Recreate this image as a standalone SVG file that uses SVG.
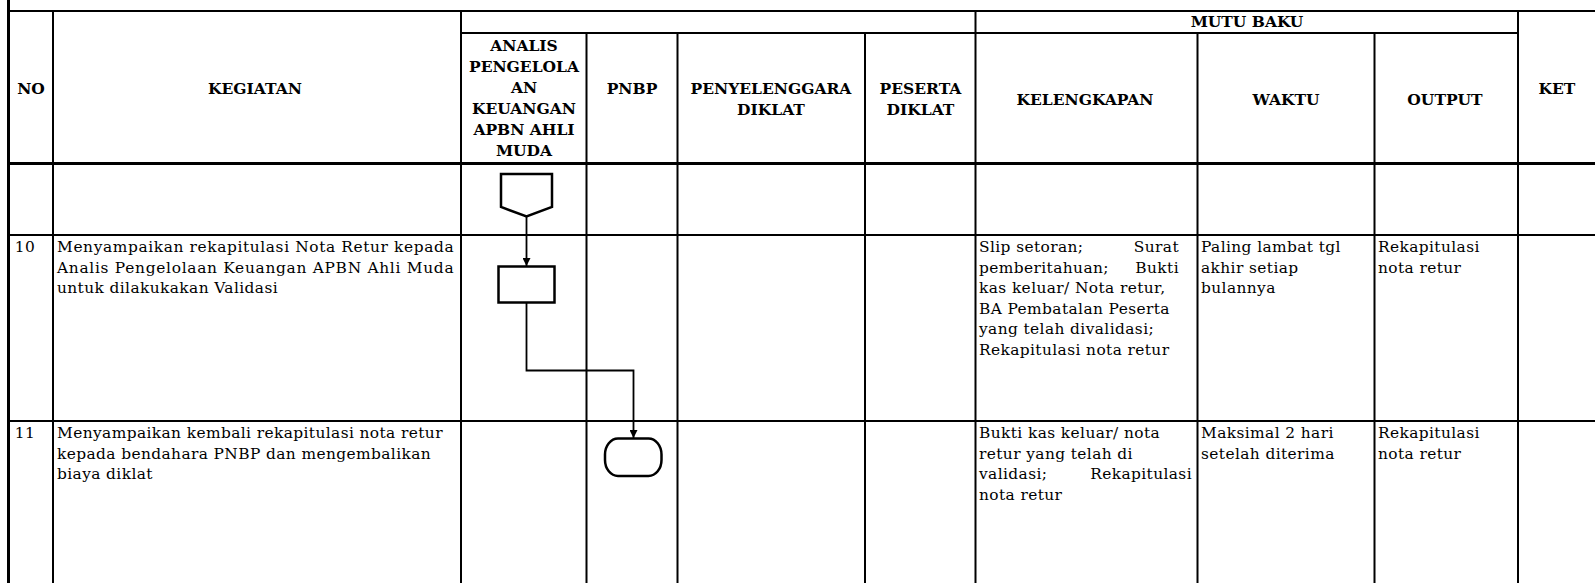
<svg xmlns="http://www.w3.org/2000/svg" width="1595" height="583" viewBox="0 0 1595 583">
<defs>
<style>
.g{stroke:#000;stroke-width:2;fill:none}
.gt{stroke:#000;stroke-width:3;fill:none}
.h{font-family:"DejaVu Serif","Liberation Serif",serif;font-weight:bold;font-size:15.5px;fill:#000;text-anchor:middle}
.b{font-family:"DejaVu Serif","Liberation Serif",serif;font-size:15.4px;letter-spacing:0.4px;fill:#000}
.s{stroke:#000;stroke-width:2.5;fill:#fff}
.c{stroke:#000;stroke-width:1.8;fill:none}
</style>
<marker id="ah" viewBox="0 0 10 10" refX="10" refY="5" markerWidth="8" markerHeight="8" markerUnits="userSpaceOnUse" orient="auto">
<path d="M0,0 L10,5 L0,10 z" fill="#000"/>
</marker>
</defs>
<rect x="0" y="0" width="1595" height="583" fill="#fff"/>

<g id="table">
<line class="gt" x1="8.5" y1="0" x2="8.5" y2="583"/>
<line class="g" x1="7" y1="11" x2="1595" y2="11"/>
<line class="g" x1="461" y1="33" x2="1518" y2="33"/>
<line class="gt" x1="7" y1="163.5" x2="1595" y2="163.5"/>
<line class="g" x1="7" y1="235" x2="1595" y2="235"/>
<line class="g" x1="7" y1="421" x2="1595" y2="421"/>
<line class="g" x1="53" y1="11" x2="53" y2="583"/>
<line class="g" x1="461" y1="11" x2="461" y2="583"/>
<line class="g" x1="586.5" y1="33" x2="586.5" y2="583"/>
<line class="g" x1="677.5" y1="33" x2="677.5" y2="583"/>
<line class="g" x1="865" y1="33" x2="865" y2="583"/>
<line class="g" x1="975.5" y1="11" x2="975.5" y2="583"/>
<line class="g" x1="1197.5" y1="33" x2="1197.5" y2="583"/>
<line class="g" x1="1374.5" y1="33" x2="1374.5" y2="583"/>
<line class="g" x1="1518" y1="11" x2="1518" y2="583"/>
</g>

<g id="header">
<text class="h" x="31" y="94">NO</text>
<text class="h" x="255" y="94">KEGIATAN</text>
<text class="h" x="524" y="50.5">ANALIS</text>
<text class="h" x="524" y="71.5">PENGELOLA</text>
<text class="h" x="524" y="93">AN</text>
<text class="h" x="524" y="113.5">KEUANGAN</text>
<text class="h" x="524" y="134.5">APBN AHLI</text>
<text class="h" x="524" y="156">MUDA</text>
<text class="h" x="632" y="94">PNBP</text>
<text class="h" x="771" y="94">PENYELENGGARA</text>
<text class="h" x="771" y="114.5">DIKLAT</text>
<text class="h" x="920.5" y="94">PESERTA</text>
<text class="h" x="920.5" y="114.5">DIKLAT</text>
<text class="h" x="1247" y="27">MUTU BAKU</text>
<text class="h" x="1085" y="104.5">KELENGKAPAN</text>
<text class="h" x="1286" y="104.5">WAKTU</text>
<text class="h" x="1445" y="104.5">OUTPUT</text>
<text class="h" x="1557" y="94">KET</text>
</g>

<g id="row10">
<text class="b" x="25" y="252" text-anchor="middle">10</text>
<text class="b" x="57" y="252" textLength="397" lengthAdjust="spacing">Menyampaikan rekapitulasi Nota Retur kepada</text>
<text class="b" x="57" y="272.5" textLength="397" lengthAdjust="spacing">Analis Pengelolaan Keuangan APBN Ahli Muda</text>
<text class="b" x="57" y="293">untuk dilakukakan Validasi</text>
<text class="b" x="979" y="252">Slip setoran;</text>
<text class="b" x="1179" y="252" text-anchor="end">Surat</text>
<text class="b" x="979" y="272.5">pemberitahuan;</text>
<text class="b" x="1179" y="272.5" text-anchor="end">Bukti</text>
<text class="b" x="979" y="293">kas keluar/ Nota retur,</text>
<text class="b" x="979" y="313.5">BA Pembatalan Peserta</text>
<text class="b" x="979" y="334">yang telah divalidasi;</text>
<text class="b" x="979" y="354.5">Rekapitulasi nota retur</text>
<text class="b" x="1201" y="252">Paling lambat tgl</text>
<text class="b" x="1201" y="272.5">akhir setiap</text>
<text class="b" x="1201" y="293">bulannya</text>
<text class="b" x="1378" y="252">Rekapitulasi</text>
<text class="b" x="1378" y="272.5">nota retur</text>
</g>

<g id="row11">
<text class="b" x="25" y="438" text-anchor="middle">11</text>
<text class="b" x="57" y="438">Menyampaikan kembali rekapitulasi nota retur</text>
<text class="b" x="57" y="458.5">kepada bendahara PNBP dan mengembalikan</text>
<text class="b" x="57" y="479">biaya diklat</text>
<text class="b" x="979" y="438">Bukti kas keluar/ nota</text>
<text class="b" x="979" y="458.5">retur yang telah di</text>
<text class="b" x="979" y="479">validasi;</text>
<text class="b" x="1192" y="479" text-anchor="end">Rekapitulasi</text>
<text class="b" x="979" y="499.5">nota retur</text>
<text class="b" x="1201" y="438">Maksimal 2 hari</text>
<text class="b" x="1201" y="458.5">setelah diterima</text>
<text class="b" x="1378" y="438">Rekapitulasi</text>
<text class="b" x="1378" y="458.5">nota retur</text>
</g>

<g id="connectors">
<line class="c" x1="526.5" y1="217" x2="526.5" y2="266" marker-end="url(#ah)"/>
<polyline class="c" points="526.5,303 526.5,370.5 633.5,370.5 633.5,438" marker-end="url(#ah)"/>
</g>

<g id="node-offpage">
<polygon class="s" points="501,174 552,174 552,207 526.5,216.5 501,207"/>
</g>
<g id="node-process">
<rect class="s" x="498.5" y="266.5" width="56" height="36"/>
</g>
<g id="node-terminator">
<rect class="s" x="605" y="438.5" width="56.5" height="37.5" rx="13" ry="16"/>
</g>
</svg>
